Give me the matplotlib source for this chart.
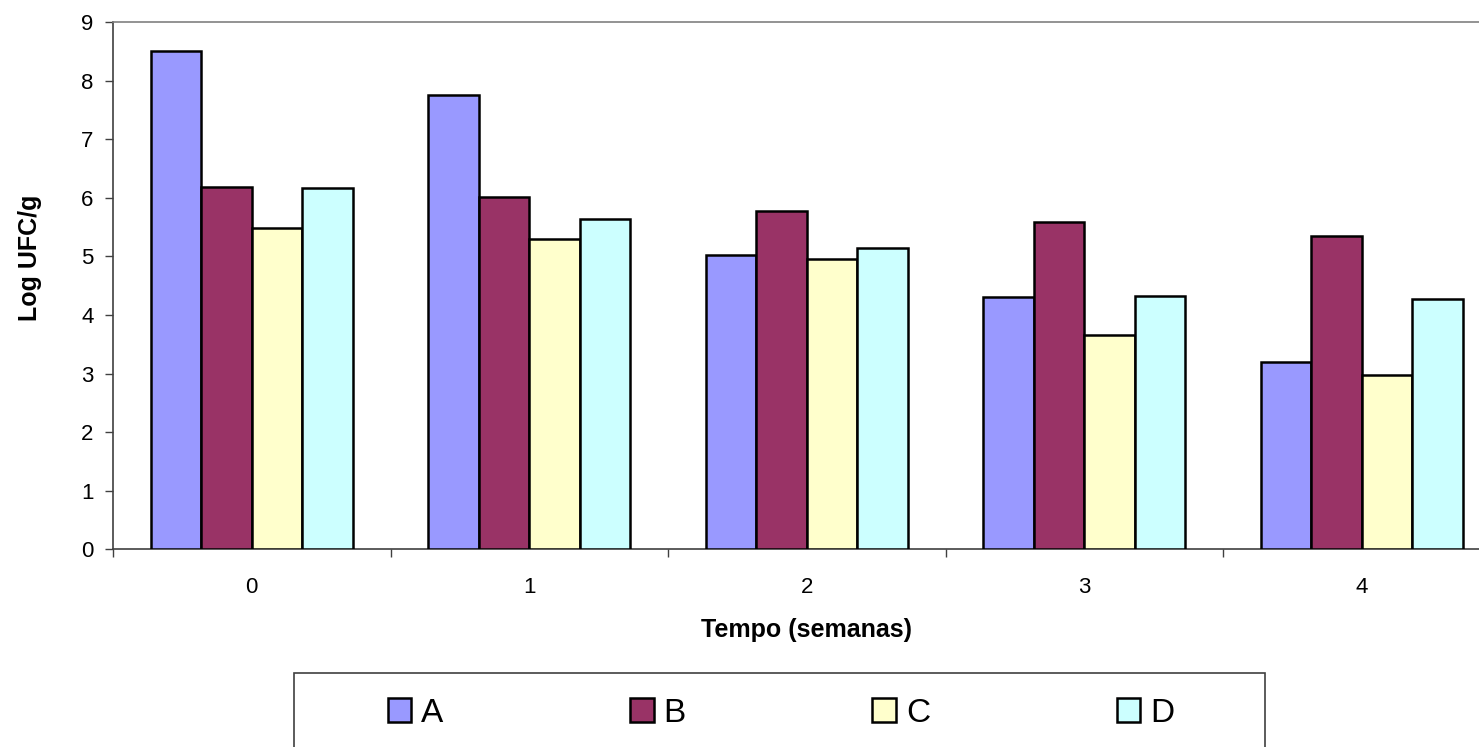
import matplotlib
matplotlib.use("Agg")
import matplotlib.pyplot as plt
from matplotlib.patches import Patch, Rectangle
from matplotlib.ticker import FixedLocator, NullFormatter
import numpy as np

plt.rcParams['font.family'] = ['Liberation Sans', 'DejaVu Sans']

semanas = ['0', '1', '2', '3', '4']
series = ['A', 'B', 'C', 'D']
valores_A = [8.50, 7.76, 5.02, 4.30, 3.20]
valores_B = [6.18, 6.02, 5.77, 5.59, 5.34]
valores_C = [5.48, 5.29, 4.96, 3.66, 2.98]
valores_D = [6.16, 5.64, 5.14, 4.32, 4.28]
cores = ['#9999FF', '#993366', '#FFFFCC', '#CCFFFF']

fig = plt.figure(figsize=(14.79, 7.47), dpi=100)
# plot area runs past the right edge of the picture, as in the original
ax = fig.add_axes([113 / 1479, 1 - 549.4 / 747, 1387.5 / 1479, 527.4 / 747])

x = np.arange(len(semanas))
w = 0.182
for k, (vals, cor) in enumerate(zip([valores_A, valores_B, valores_C, valores_D], cores)):
    ax.bar(x + (k - 1.5) * w, vals, width=w, color=cor, edgecolor='black',
           linewidth=1.8, label=series[k], zorder=3)

ax.set_xlim(-0.5, len(semanas) - 0.5)
ax.set_ylim(0, 9)
ax.set_yticks(range(10))

ax.xaxis.set_major_locator(FixedLocator(np.arange(-0.5, len(semanas), 1.0)))
ax.xaxis.set_major_formatter(NullFormatter())
ax.xaxis.set_minor_locator(FixedLocator(x))
ax.set_xticklabels(semanas, minor=True)
ax.tick_params(axis='x', which='major', length=6, width=1, color='#404040', direction='out')
ax.tick_params(axis='x', which='minor', length=0, pad=20, labelsize=16)
ax.tick_params(axis='y', length=6, width=1, color='#404040', direction='out', pad=8, labelsize=16)

ax.spines['top'].set_color('#808080')
ax.spines['right'].set_color('#808080')
ax.spines['left'].set_color('#404040')
ax.spines['bottom'].set_color('#404040')
for s in ax.spines.values():
    s.set_linewidth(1.2)

ax.set_xlabel('Tempo (semanas)', fontsize=18, fontweight='bold')
ax.set_ylabel('Log UFC/g', fontsize=18, fontweight='bold')
ax.xaxis.set_label_coords(0.5, -0.130)
ax.yaxis.set_label_coords(-0.0512, 0.552)

# legend box
fig.add_artist(Rectangle((294 / 1479, -0.05), (1265 - 294) / 1479, 1 - 673 / 747 + 0.05,
                         transform=fig.transFigure, facecolor='white',
                         edgecolor='#404040', linewidth=1.2))
handles = [Patch(facecolor=c, edgecolor='black', linewidth=1.8) for c in cores]
fig.legend(handles, series, loc='center', bbox_to_anchor=(781 / 1479, 1 - 713 / 747),
           ncol=4, frameon=False, fontsize=24, handlelength=0.7, handleheight=0.7,
           handletextpad=0.3, columnspacing=5.6, borderpad=0)

fig.savefig('out.png', dpi=100)
